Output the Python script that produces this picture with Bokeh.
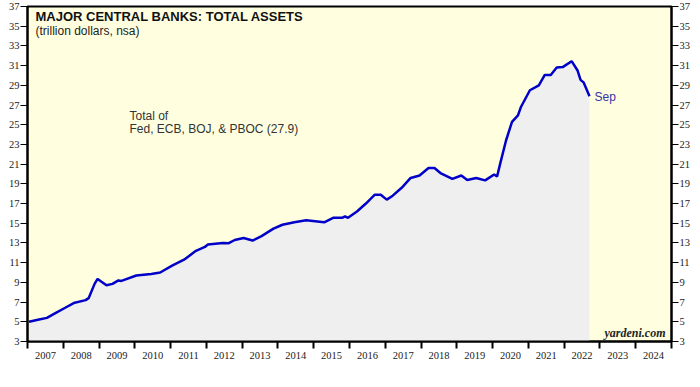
from bokeh.plotting import figure
from bokeh.models import (FixedTicker, LinearAxis, Range1d, Label,
                          CustomJSTickFormatter, ColumnDataSource)
from bokeh.embed import file_html
from bokeh.resources import INLINE

# ---- data (trillion dollars) ----
MONTHS = ["2007-01", "2007-04", "2007-07", "2007-10", "2008-01", "2008-04", "2008-08",
          "2008-09", "2008-11", "2008-12", "2009-03", "2009-05", "2009-07", "2009-08",
          "2010-01", "2010-06", "2010-09", "2011-01", "2011-05", "2011-09", "2011-12",
          "2012-01", "2012-06", "2012-08", "2012-10", "2013-01", "2013-04", "2013-07",
          "2013-11", "2014-02", "2014-06", "2014-10", "2015-01", "2015-04", "2015-07",
          "2015-10", "2015-11", "2015-12", "2016-03", "2016-06", "2016-09", "2016-11",
          "2017-01", "2017-03", "2017-06", "2017-09", "2017-12", "2018-03", "2018-05",
          "2018-07", "2018-11", "2019-02", "2019-04", "2019-07", "2019-10", "2020-01",
          "2020-02", "2020-03", "2020-05", "2020-07", "2020-09", "2020-10", "2021-01",
          "2021-04", "2021-06", "2021-08", "2021-10", "2021-12", "2022-03", "2022-05",
          "2022-06", "2022-07", "2022-09"]
TOTAL_ASSETS = [5.0, 5.2, 5.4, 5.9, 6.4, 6.9, 7.2,
                7.4, 8.85, 9.35, 8.7, 8.85, 9.2, 9.15,
                9.7, 9.85, 10.0, 10.7, 11.3, 12.2, 12.6,
                12.85, 13.0, 12.98, 13.3, 13.5, 13.25, 13.7,
                14.45, 14.85, 15.1, 15.3, 15.2, 15.1, 15.55,
                15.55, 15.7, 15.55, 16.2, 17.0, 17.9, 17.9,
                17.4, 17.8, 18.6, 19.6, 19.85, 20.6, 20.6,
                20.1, 19.5, 19.85, 19.4, 19.6, 19.35, 19.95,
                19.75, 21.0, 23.4, 25.3, 25.95, 26.8, 28.5,
                29.0, 30.05, 30.05, 30.8, 30.85, 31.45, 30.5,
                29.55, 29.3, 27.9]
YEARS = list(range(2007, 2026))
Y_TICKS = list(range(3, 38, 2))
Y_MIN, Y_MAX = 3, 37
LAST_LABEL = "Sep"
TITLE = "MAJOR CENTRAL BANKS: TOTAL ASSETS"
SUBTITLE = "(trillion dollars, nsa)"
NOTE1 = "Total of"
NOTE2 = "Fed, ECB, BOJ, & PBOC (27.9)"
SOURCE = "Source: Haver Analytics."
BRAND = "yardeni.com"


def to_year(s):
    y, m = s.split("-")
    return int(y) + (int(m) - 0.5) / 12.0


xs = [to_year(s) for s in MONTHS]
src = ColumnDataSource(dict(x=xs, y=TOTAL_ASSETS, base=[Y_MIN] * len(xs)))

SANS = "Liberation Sans"
SERIF = "Liberation Serif"

p = figure(width=698, height=385, x_range=Range1d(YEARS[0], YEARS[-1]),
           y_range=Range1d(Y_MIN, Y_MAX), output_backend="svg",
           toolbar_location=None, min_border_left=27, min_border_right=27,
           min_border_top=6, min_border_bottom=44)
p.background_fill_color = "#FFFFE0"
p.border_fill_color = "white"
p.outline_line_color = "black"
p.outline_line_width = 2
p.xgrid.visible = False
p.ygrid.visible = False

p.varea(x="x", y1="base", y2="y", source=src, fill_color="#EFEFF0")
p.line(x="x", y="y", source=src, line_color="#0000C8", line_width=2.5)


def style_y(ax):
    ax.ticker = FixedTicker(ticks=Y_TICKS)
    ax.major_tick_out = 7
    ax.major_tick_in = 0
    ax.minor_tick_out = 0
    ax.minor_tick_in = 0
    ax.major_tick_line_color = "black"
    ax.axis_line_color = "black"
    ax.axis_line_width = 2
    ax.major_label_standoff = 1
    ax.major_label_text_font = SERIF
    ax.major_label_text_font_size = "10.5px"
    ax.major_label_text_color = "#222222"


style_y(p.yaxis[0])
ry = LinearAxis()
style_y(ry)
p.add_layout(ry, "right")

xa = p.xaxis[0]
xa.ticker = FixedTicker(ticks=[y + 0.5 for y in YEARS[:-1]], minor_ticks=YEARS)
xa.formatter = CustomJSTickFormatter(code="return Math.floor(tick).toString();")
xa.major_tick_out = 0
xa.major_tick_in = 0
xa.minor_tick_out = 7
xa.minor_tick_in = 0
xa.minor_tick_line_width = 2
xa.minor_tick_line_color = "black"
xa.axis_line_color = "black"
xa.axis_line_width = 2
xa.major_label_standoff = 3
xa.major_label_text_font = SERIF
xa.major_label_text_font_size = "10.5px"
xa.major_label_text_color = "#222222"

p.add_layout(Label(x=YEARS[0], y=Y_MIN, x_offset=0, y_offset=-36, text=SOURCE,
                   text_baseline="alphabetic", text_font=SERIF,
                   text_font_size="11px", text_color="#222222"))

p.add_layout(Label(x=YEARS[0], y=Y_MAX, x_offset=8, y_offset=-2, text=TITLE,
                   text_baseline="top", text_font=SANS, text_font_size="13px",
                   text_font_style="bold", text_color="#111111"))
p.add_layout(Label(x=YEARS[0], y=Y_MAX, x_offset=8, y_offset=-17, text=SUBTITLE,
                   text_baseline="top", text_font=SANS, text_font_size="12px",
                   text_color="#222222"))
p.add_layout(Label(x=YEARS[0], y=Y_MAX, x_offset=102, y_offset=-102, text=NOTE1,
                   text_baseline="top", text_font=SANS, text_font_size="12px",
                   text_color="#333333"))
p.add_layout(Label(x=YEARS[0], y=Y_MAX, x_offset=102, y_offset=-115, text=NOTE2,
                   text_baseline="top", text_font=SANS, text_font_size="12px",
                   text_color="#333333"))
p.add_layout(Label(x=xs[-1], y=TOTAL_ASSETS[-1], x_offset=5, y_offset=-1,
                   text=LAST_LABEL, text_baseline="middle", text_font=SANS,
                   text_font_size="12px", text_color="#3434A8"))
p.add_layout(Label(x=YEARS[-1], y=Y_MIN, x_offset=-6, y_offset=9, text=BRAND,
                   text_align="right", text_baseline="alphabetic", text_font=SERIF,
                   text_font_size="12px", text_font_style="bold italic",
                   text_color="#222222"))

open("out.html", "w").write(file_html(p, INLINE))
